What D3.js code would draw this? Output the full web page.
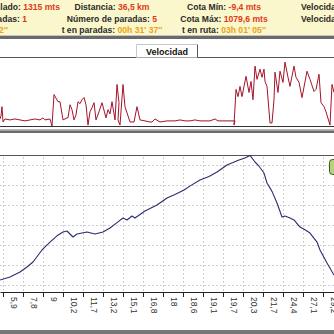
<!DOCTYPE html>
<html>
<head>
<meta charset="utf-8">
<script src="https://cdn.jsdelivr.net/npm/d3@7"></script>
<style>
  html, body { margin: 0; padding: 0; background: #fff; }
  svg { display: block; }
</style>
</head>
<body>
<script>
// Ride summary (label, value, kind of value)
const summaryCol1 = [["Desnivel acumulado: ", "1315 mts", "num"], ["Paradas: ", "1", "num"], ["t total: ", "03h 32' 42''", "time"]];
const summaryCol2 = [["Distancia: ", "36,5 km", "num"], ["Número de paradas: ", "5", "num"], ["t en paradas: ", "00h 31' 37''", "time"]];
const summaryCol3 = [["Cota Mín: ", "-9,4 mts", "num"], ["Cota Máx: ", "1079,6 mts", "num"], ["t en ruta: ", "03h 01' 05''", "time"]];
const summaryCol4 = [["Velocidad media: ", "12,1 km/h", "num"], ["Velocidad máx: ", "46,3 km/h", "num"], ["", "", "num"]];

// Distance (km) reached at each time mark along the bottom axis
const tickTimes = [30, 40, 50, 60, 70, 80, 90, 100, 110, 120, 130, 140, 150, 160, 170, 180, 190];
const tickLabels = ["5,9", "7,8", "9", "10,2", "11,7", "13,2", "15,1", "16,8", "18", "18,6", "19,1", "19,7", "20,3", "21,7", "24,4", "27,1", "29,2"];

// Elevation profile: time (min) and altitude (m)
const elevTime = [28.5, 33.5, 38.5, 42, 45, 49.5, 53.5, 57, 60, 62, 65, 67, 72, 76, 80, 83.5, 87, 90, 92, 94.5, 96, 101, 107, 112, 116, 120.5, 124, 128.5, 133, 137, 142, 145, 148, 151, 153.5, 156, 158, 160.5, 162, 164.5, 167, 169.5, 171, 173.5, 175.5, 178.5, 181, 183.5, 187, 188.5, 192, 195.5];
const elevMeters = [42, 67, 108, 150, 192, 292, 358, 410, 442, 450, 400, 425, 442, 425, 442, 475, 520, 558, 542, 575, 558, 617, 667, 725, 755, 792, 830, 875, 905, 942, 1000, 1020, 1042, 1058, 1079.6, 1025, 990, 933, 850, 780, 683, 567, 575, 558, 542, 483, 460, 433, 358, 292, 183, 83];

// Speed trace: time (min) and speed (km/h)
const speedTime = [28.5, 29, 29.5, 30, 31, 33.5, 36, 38.5, 41, 43.5, 46, 48.5, 50, 51, 53.5, 54.5, 55.5, 57.5, 58.5, 60, 62, 62.5, 63.5, 64.5, 65.5, 66.5, 67.5, 68.5, 69.5, 70.5, 71.5, 72.5, 73.5, 74.5, 75.5, 76.5, 78, 79.5, 81.5, 82.5, 83.5, 84.5, 86, 87, 88, 87.5, 88.5, 90, 91, 93.5, 95.5, 97, 98.5, 101, 103.5, 104.5, 106, 108.5, 112, 116, 118.5, 121, 123.5, 126, 128.5, 131, 133.5, 136, 137.5, 141, 146, 145.5, 146.5, 147.5, 148.5, 149.5, 151.5, 153, 154, 155, 156, 157, 158.5, 159.5, 160.5, 161, 162, 163.5, 164.5, 165.5, 166, 167.5, 168.5, 170, 171, 172.5, 173.5, 175.5, 176.5, 178, 179.5, 182, 183.5, 185.5, 186.5, 188, 189, 190.5, 191.5, 193.5, 194.5, 195.5];
const speedKmh = [5.1, 7.4, 14, 2.9, 5.1, 4.4, 5.1, 4.4, 3.7, 4.4, 5.1, 4.4, 5.9, 4.4, 5.1, 0, 22.8, 17.6, 17.6, 4.4, 5.9, 5.9, 15.4, 11.8, 4.4, 8.1, 17.6, 16.2, 19.1, 20.6, 15.4, 0.7, 10.3, 13.2, 16.9, 4.4, 10.3, 16.9, 5.9, 11.8, 8.8, 17.6, 4.4, 30.1, 16.9, 4.4, 0.7, 30.1, 14, 2.9, 2.9, 14, 4.4, 3.7, 2.9, 2.9, 5.1, 2.9, 3.7, 3.7, 4.4, 3.7, 3.7, 4.4, 3.7, 3.7, 3.7, 5.1, 3.7, 3.7, 3.7, 0.7, 26.5, 21.3, 28.7, 21.3, 36, 24.3, 32.3, 19.1, 43.4, 33.8, 41.2, 35.3, 41.2, 32.3, 28.7, 2.2, 2.2, 19.1, 39, 24.3, 39.7, 31.6, 46.3, 35.3, 28.7, 43.4, 35.3, 31.6, 20.6, 39.7, 33.8, 25, 26.5, 37.5, 16.9, 14, 10.3, 0.7, 30.1, 24.3];

const W = 334, H = 334;
const svg = d3.select("body").append("svg").attr("width", W).attr("height", H);
const defs = svg.append("defs");

// ---- summary panel ----
svg.append("rect").attr("x", 0).attr("y", 0).attr("width", W).attr("height", 35).attr("fill", "#fbf7cc");
svg.append("rect").attr("x", 0).attr("y", 35).attr("width", W).attr("height", 1).attr("fill", "#c4c4c4");
svg.append("rect").attr("x", 0).attr("y", 36).attr("width", W).attr("height", 3).attr("fill", "#6a6a6a");

const rowY = [10, 22, 33];
const valueColor = { num: "#dd3a1c", time: "#e8a416" };
// xs: one anchor position per row
function summaryColumn(rows, xs, anchor) {
  rows.forEach((r, i) => {
    const t = svg.append("text")
      .attr("x", xs[i]).attr("y", rowY[i])
      .attr("text-anchor", anchor)
      .attr("font-family", "Liberation Sans, Arial, sans-serif")
      .attr("font-size", 8.6).attr("font-weight", "bold");
    t.append("tspan").attr("fill", "#2a2a2a").text(r[0]);
    t.append("tspan").attr("fill", valueColor[r[2]]).text(r[1]);
  });
}
summaryColumn(summaryCol1, [60, 27, 8], "end");
summaryColumn(summaryCol2, [112, 112, 112], "middle");
summaryColumn(summaryCol3, [224, 224, 224], "middle");
summaryColumn(summaryCol4, [301, 301, 301], "start");

// ---- shared time scale ----
const x = d3.scaleLinear().domain([28.5, 195.5]).range([0, W]);

// ---- speed panel ----
const ySpeed = d3.scaleLinear().domain([0, 50]).range([126, 57]);

svg.append("line").attr("x1", 0).attr("x2", W).attr("y1", 57.5).attr("y2", 57.5).attr("stroke", "#555");
// tab
svg.append("rect").attr("x", 136).attr("y", 44).attr("width", 62).attr("height", 13.5).attr("fill", "#fff");
svg.append("path").attr("d", "M136.5,57.5 V44.5 H197.5").attr("fill", "none").attr("stroke", "#c8c8c8");
svg.append("path").attr("d", "M197.5,44.5 V57.5").attr("fill", "none").attr("stroke", "#555");
svg.append("text").attr("x", 167).attr("y", 54.5).attr("text-anchor", "middle")
  .attr("font-family", "Liberation Sans, Arial, sans-serif").attr("font-size", 9).attr("font-weight", "bold")
  .attr("fill", "#111").text("Velocidad");

defs.append("clipPath").attr("id", "clipSpeed").append("rect").attr("x", 0).attr("y", 58).attr("width", W).attr("height", 68);
const speedLine = d3.line().x((d, i) => x(speedTime[i])).y(d => ySpeed(d));
svg.append("path").datum(speedKmh).attr("clip-path", "url(#clipSpeed)")
  .attr("d", speedLine).attr("fill", "none").attr("stroke", "#a3142a").attr("stroke-width", 1)
  .attr("stroke-linejoin", "round");

svg.append("line").attr("x1", 0).attr("x2", W).attr("y1", 126.5).attr("y2", 126.5).attr("stroke", "#333");
svg.append("rect").attr("x", 0).attr("y", 129).attr("width", W).attr("height", 1.5).attr("fill", "#b8b8b8");
svg.append("rect").attr("x", 0).attr("y", 130.5).attr("width", W).attr("height", 2.5).attr("fill", "#6a6a6a");

// ---- elevation panel ----
const yElev = d3.scaleLinear().domain([0, 1000]).range([285, 165]);
const elevGrid = [0, 166.7, 333.3, 500, 666.7, 833.3, 1000];

svg.append("line").attr("x1", 0).attr("x2", W).attr("y1", 155.5).attr("y2", 155.5).attr("stroke", "#555");

const grid = svg.append("g").attr("stroke", "#cfcfcf").attr("stroke-dasharray", "2,2").attr("shape-rendering", "crispEdges");
grid.selectAll("line.h").data(elevGrid).join("line").attr("class", "h")
  .attr("x1", 0).attr("x2", W).attr("y1", d => Math.round(yElev(d)) + 0.5).attr("y2", d => Math.round(yElev(d)) + 0.5);
grid.selectAll("line.v").data(tickTimes).join("line").attr("class", "v")
  .attr("x1", d => Math.round(x(d)) + 0.5).attr("x2", d => Math.round(x(d)) + 0.5).attr("y1", 157).attr("y2", 292);

defs.append("clipPath").attr("id", "clipElev").append("rect").attr("x", 0).attr("y", 155).attr("width", W).attr("height", 137);
const elevLine = d3.line().x((d, i) => x(elevTime[i])).y(d => yElev(d));
svg.append("path").datum(elevMeters).attr("clip-path", "url(#clipElev)")
  .attr("d", elevLine).attr("fill", "none").attr("stroke", "#2b2d6e").attr("stroke-width", 1.1)
  .attr("stroke-linejoin", "round");

// legend box peeking in from the right
svg.append("rect").attr("x", 329.5).attr("y", 159.5).attr("width", 20).attr("height", 15).attr("rx", 3)
  .attr("fill", "#b3d27a").attr("stroke", "#3c5a1e");

// bottom axis
const axis = d3.axisBottom(x).tickValues(tickTimes).tickSize(5).tickSizeOuter(0)
  .tickFormat((d, i) => tickLabels[i]);
const gAxis = svg.append("g").attr("transform", "translate(0,292)").call(axis);
gAxis.select(".domain").attr("stroke", "#222");
gAxis.selectAll(".tick line").attr("stroke", "#222");
gAxis.selectAll(".tick text")
  .attr("font-family", "Liberation Sans, Arial, sans-serif").attr("font-size", 8.5).attr("fill", "#333")
  .attr("text-anchor", "start")
  .attr("transform", "rotate(90)")
  .attr("x", 5).attr("y", -7).attr("dy", "0");

svg.append("rect").attr("x", 0).attr("y", 330).attr("width", W).attr("height", 4).attr("fill", "#777");
</script>
</body>
</html>
